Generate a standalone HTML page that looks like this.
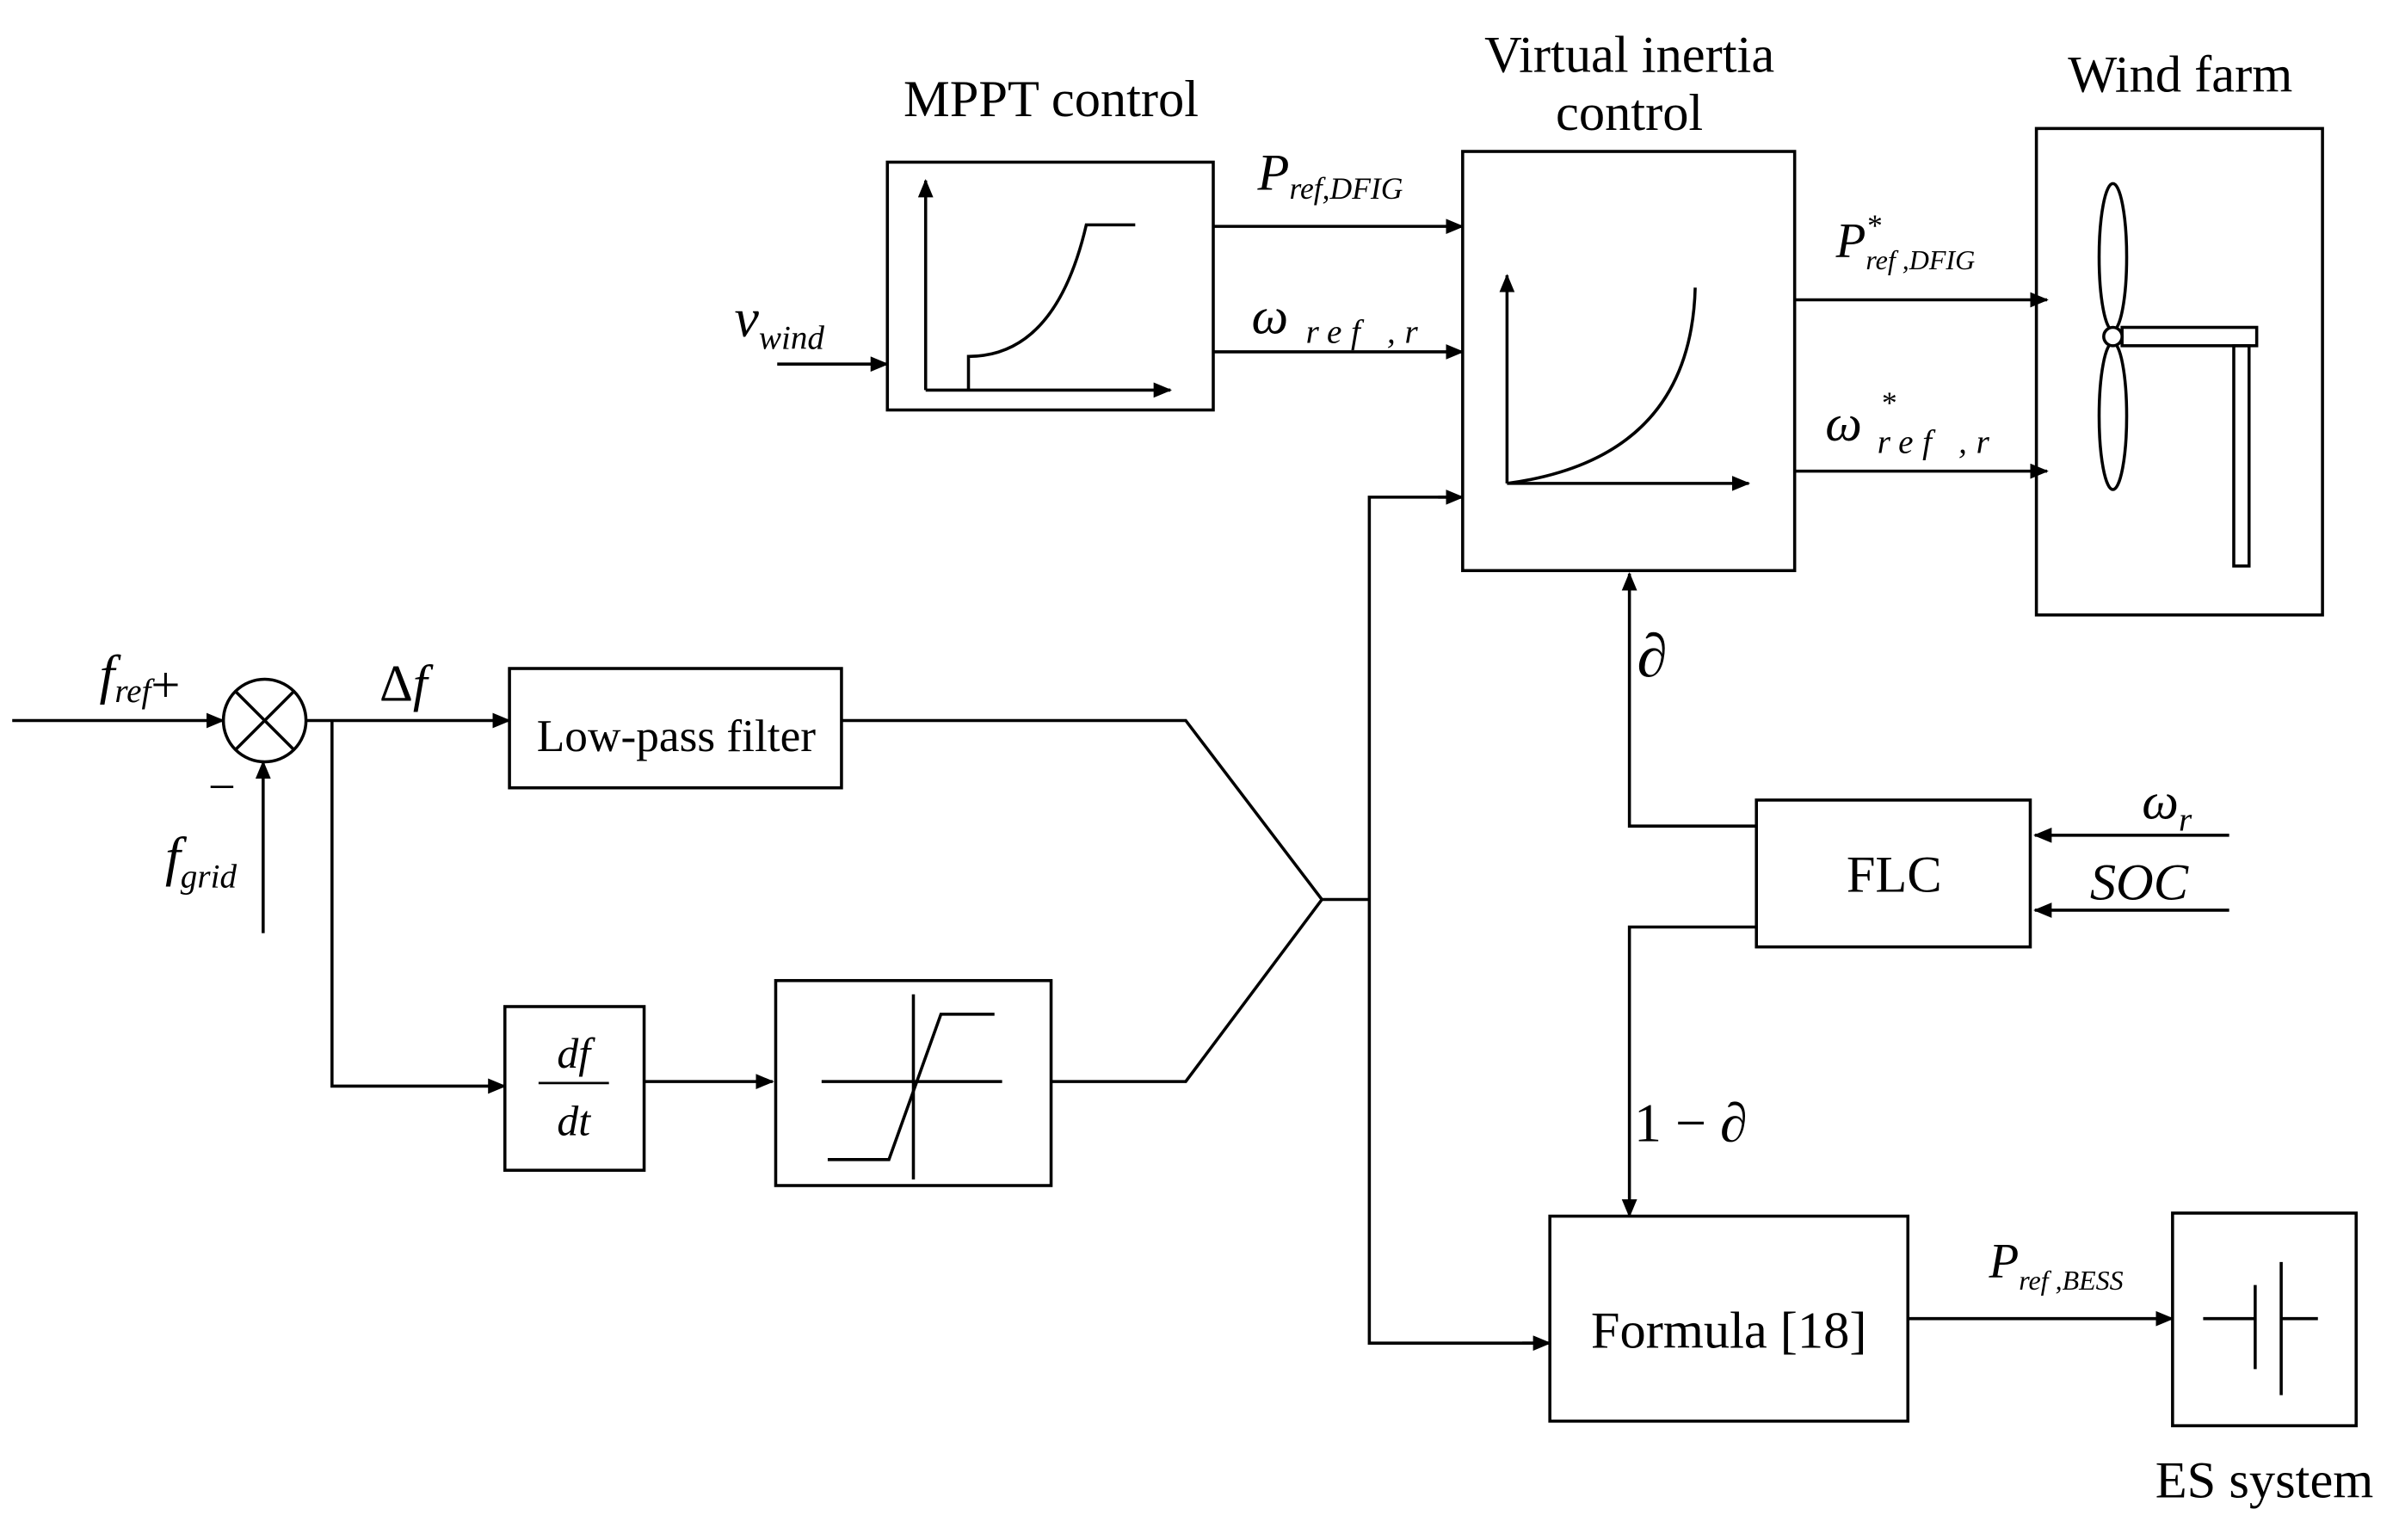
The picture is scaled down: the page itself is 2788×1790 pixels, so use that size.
<!DOCTYPE html>
<html><head><meta charset="utf-8"><style>html,body{margin:0;padding:0;background:#fff}svg{display:block}</style></head><body>
<svg width="2788" height="1790" viewBox="0 0 1568 1006.7" preserveAspectRatio="none" xmlns="http://www.w3.org/2000/svg" font-family="Liberation Serif, serif">
<defs><marker id="a" markerWidth="12" markerHeight="10" refX="11" refY="5" orient="auto" markerUnits="userSpaceOnUse"><path d="M0,0 L12,5 L0,10 Z" fill="#000"/></marker></defs>
<g stroke="#000" stroke-width="2" fill="none">
<rect x="580" y="106" width="213" height="162"/>
<line x1="605" y1="255" x2="605" y2="118" marker-end="url(#a)"/>
<line x1="605" y1="255" x2="765" y2="255" marker-end="url(#a)"/>
<path d="M633,255 L633,233 Q690,233 710,147 L742,147"/>
<rect x="956" y="99" width="217" height="274"/>
<line x1="985" y1="316" x2="985" y2="180" marker-end="url(#a)"/>
<line x1="985" y1="316" x2="1143" y2="316" marker-end="url(#a)"/>
<path d="M985,316 Q1105,300 1108,188"/>
<rect x="1331" y="84" width="187" height="318"/>
<ellipse cx="1381" cy="168" rx="9" ry="48"/>
<ellipse cx="1381" cy="272" rx="9" ry="48"/>
<rect x="1387" y="214" width="88" height="12"/>
<rect x="1460" y="226" width="10" height="144"/>
<circle cx="1381" cy="220" r="6" fill="#fff"/>
<line x1="793" y1="148" x2="956" y2="148" marker-end="url(#a)"/>
<line x1="793" y1="230" x2="956" y2="230" marker-end="url(#a)"/>
<line x1="508" y1="238" x2="580" y2="238" marker-end="url(#a)"/>
<line x1="1173" y1="196" x2="1338" y2="196" marker-end="url(#a)"/>
<line x1="1173" y1="308" x2="1338" y2="308" marker-end="url(#a)"/>
<circle cx="173" cy="471" r="27"/>
<line x1="154" y1="452" x2="192" y2="490"/>
<line x1="192" y1="452" x2="154" y2="490"/>
<line x1="8" y1="471" x2="146" y2="471" marker-end="url(#a)"/>
<line x1="172" y1="610" x2="172" y2="498" marker-end="url(#a)"/>
<line x1="200" y1="471" x2="333" y2="471" marker-end="url(#a)"/>
<rect x="333" y="437" width="217" height="78"/>
<polyline points="217,471 217,710 330,710" marker-end="url(#a)"/>
<rect x="330" y="658" width="91" height="107"/>
<line x1="421" y1="707" x2="505" y2="707" marker-end="url(#a)"/>
<rect x="507" y="641" width="180" height="134"/>
<line x1="537" y1="707" x2="655" y2="707"/>
<line x1="597" y1="650" x2="597" y2="771"/>
<polyline points="541,758 581,758 615,663 650,663"/>
<polyline points="550,471 775,471 864,588 775,707 687,707"/>
<line x1="864" y1="588" x2="895" y2="588"/>
<polyline points="956,325 895,325 895,878 1013,878"/>
<line x1="940" y1="325" x2="956" y2="325" marker-end="url(#a)"/>
<line x1="995" y1="878" x2="1013" y2="878" marker-end="url(#a)"/>
<rect x="1148" y="523" width="179" height="96"/>
<line x1="1457" y1="546" x2="1330" y2="546" marker-end="url(#a)"/>
<line x1="1457" y1="595" x2="1330" y2="595" marker-end="url(#a)"/>
<polyline points="1148,540 1065,540 1065,375" marker-end="url(#a)"/>
<polyline points="1148,606 1065,606 1065,795" marker-end="url(#a)"/>
<rect x="1013" y="795" width="234" height="134"/>
<line x1="1247" y1="862" x2="1420" y2="862" marker-end="url(#a)"/>
<rect x="1420" y="793" width="120" height="139"/>
<line x1="1440" y1="862" x2="1474" y2="862"/>
<line x1="1474" y1="840" x2="1474" y2="895"/>
<line x1="1491" y1="825" x2="1491" y2="912"/>
<line x1="1491" y1="862" x2="1515" y2="862"/>
</g>
<g fill="#000" font-size="34">
<text x="687" y="76" text-anchor="middle">MPPT control</text>
<text x="1065" y="47" text-anchor="middle">Virtual inertia</text>
<text x="1065" y="85" text-anchor="middle">control</text>
<text x="1425" y="60" text-anchor="middle">Wind farm</text>
<text x="442" y="491" text-anchor="middle" font-size="30">Low-pass filter</text>
<text x="1238" y="583" text-anchor="middle">FLC</text>
<text x="1130" y="881" text-anchor="middle">Formula [18]</text>
<text x="1480" y="979" text-anchor="middle">ES system</text>
<text x="822" y="124" font-style="italic" font-size="34">P<tspan font-size="20" dy="6">ref,DFIG</tspan></text>
<text x="818" y="218" font-style="italic" font-size="34">ω<tspan font-size="22" dy="6" letter-spacing="6"> ref ,r</tspan></text>
<text x="480" y="220" font-style="italic" font-size="36">v<tspan font-size="22" dy="8">wind</tspan></text>
<text x="1200" y="168" font-style="italic" font-size="32">P<tspan font-size="20" dy="-14">*</tspan><tspan font-size="18" dx="-10" dy="22">ref ,DFIG</tspan></text>
<text x="1193" y="288" font-style="italic" font-size="34">ω<tspan font-size="20" dx="12" dy="-18">*</tspan><tspan font-size="22" dx="-12" dy="26" letter-spacing="6">ref ,r</tspan></text>
<text x="65" y="453" font-style="italic" font-size="36">f<tspan font-size="22" dy="6">ref</tspan><tspan font-style="normal" font-size="34" dy="0">+</tspan></text>
<text x="136" y="525" font-size="32">−</text>
<text x="108" y="572" font-style="italic" font-size="36">f<tspan font-size="22" dy="8">grid</tspan></text>
<text x="248" y="458" font-size="34">Δ<tspan font-style="italic">f</tspan></text>
<text x="375" y="698" text-anchor="middle" font-style="italic" font-size="28">df</text>
<line x1="352" y1="708" x2="398" y2="708" stroke="#000" stroke-width="1.5"/>
<text x="375" y="742" text-anchor="middle" font-style="italic" font-size="28">dt</text>
<text x="1070" y="442" font-size="40" font-style="italic">∂</text>
<text x="1068" y="746" font-size="36">1 − <tspan font-style="italic">∂</tspan></text>
<text x="1400" y="535" font-style="italic" font-size="34">ω<tspan font-size="22" dy="8">r</tspan></text>
<text x="1366" y="588" font-style="italic" font-size="34">SOC</text>
<text x="1300" y="835" font-style="italic" font-size="32">P<tspan font-size="18" dy="8">ref ,BESS</tspan></text>
</g>
</svg>
</body></html>
